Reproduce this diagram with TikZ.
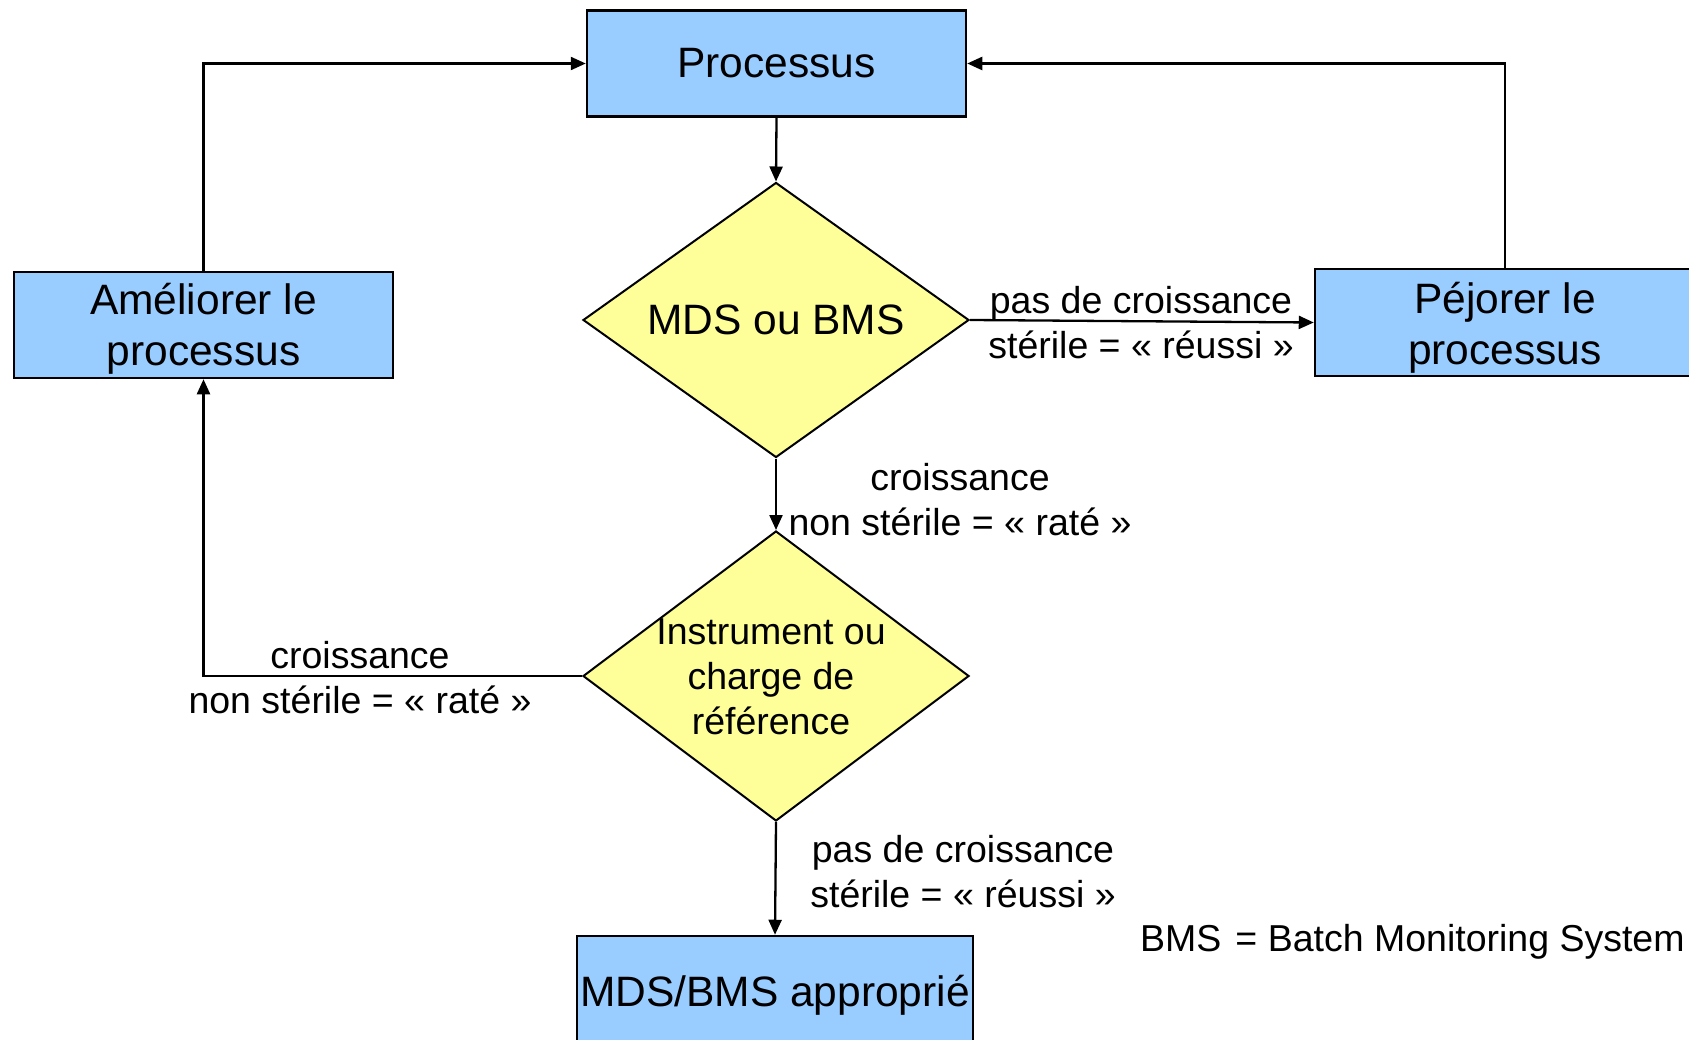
\documentclass[tikz,border=0pt]{standalone}
\usepackage{fontspec}
\setmainfont{Liberation Sans}
\usetikzlibrary{shapes.geometric,arrows.meta}
\definecolor{boxblue}{HTML}{99CCFF}
\definecolor{decyellow}{HTML}{FFFF99}
\begin{document}
\begin{tikzpicture}[x=1pt,y=-1pt,
  bigtext/.style={font=\fontsize{42.5}{51}\selectfont},
  labeltext/.style={font=\fontsize{37.5}{45}\selectfont, align=center, inner sep=0pt},
  procbox/.style={draw, line width=2.5pt, fill=boxblue, rectangle, inner sep=0pt, align=center, bigtext},
  boxtext/.style={bigtext, align=center, inner sep=0pt},
  decision/.style={draw, line width=2pt, fill=decyellow, diamond, inner sep=0pt},
  link/.style={line width=2.3pt, -{Triangle[length=15pt,width=13pt]}}]
\useasboundingbox (0,0) rectangle (1689,1040);
\clip (0,0) rectangle (1689,1040);

% process boxes
\node[procbox, minimum width=379pt, minimum height=106pt] (proc) at (776.5,63.5) {Processus};
\node[procbox, minimum width=379pt, minimum height=106pt] (amel) at (203.5,325) {};
\node[boxtext] (ameltext) at (203.5,329) {Améliorer le\\processus};
\node[procbox, minimum width=380pt, minimum height=107pt] (pej) at (1505,322.5) {};
\node[boxtext] (pejtext) at (1505,328) {Péjorer le\\processus};
\node[procbox, minimum width=396pt, minimum height=122pt] (final) at (775,997) {};
\node[boxtext] (finaltext) at (775,995) {MDS/BMS approprié};

% decisions
\node[decision, minimum width=386pt, minimum height=275pt] (d1) at (776,320) {};
\node[bigtext, inner sep=0pt] (d1text) at (d1.center) {MDS ou BMS};
\node[decision, minimum width=386pt, minimum height=290pt] (d2) at (776,676) {};
\node[labeltext] (d2text) at (771,677) {Instrument ou\\charge de\\référence};

% connectors
\draw[link] (proc.south) -- (d1.north);
\draw[link] (d1.east) -- (pej.west);
\draw[link] (d1.south) -- (d2.north);
\draw[link] (d2.south) -- (final.north);
\draw[link] (d2.west) -| (amel.south);
\draw[link] (amel.north) |- (proc.west);
\draw[link] (pej.north) |- (proc.east);

% connector labels
\node[labeltext] (lreussi1) at (1141,323) {pas de croissance\\stérile = « réussi »};
\node[labeltext] (lrate1) at (960,500) {croissance\\non stérile = « raté »};
\node[labeltext] (lrate2) at (360,678) {croissance\\non stérile = « raté »};
\node[labeltext] (lreussi2) at (963,872) {pas de croissance\\stérile = « réussi »};

% abbreviation note
\node[labeltext, anchor=west] (note) at (1140,942) {BMS\hspace{14pt}= Batch Monitoring System};
\end{tikzpicture}
\end{document}
